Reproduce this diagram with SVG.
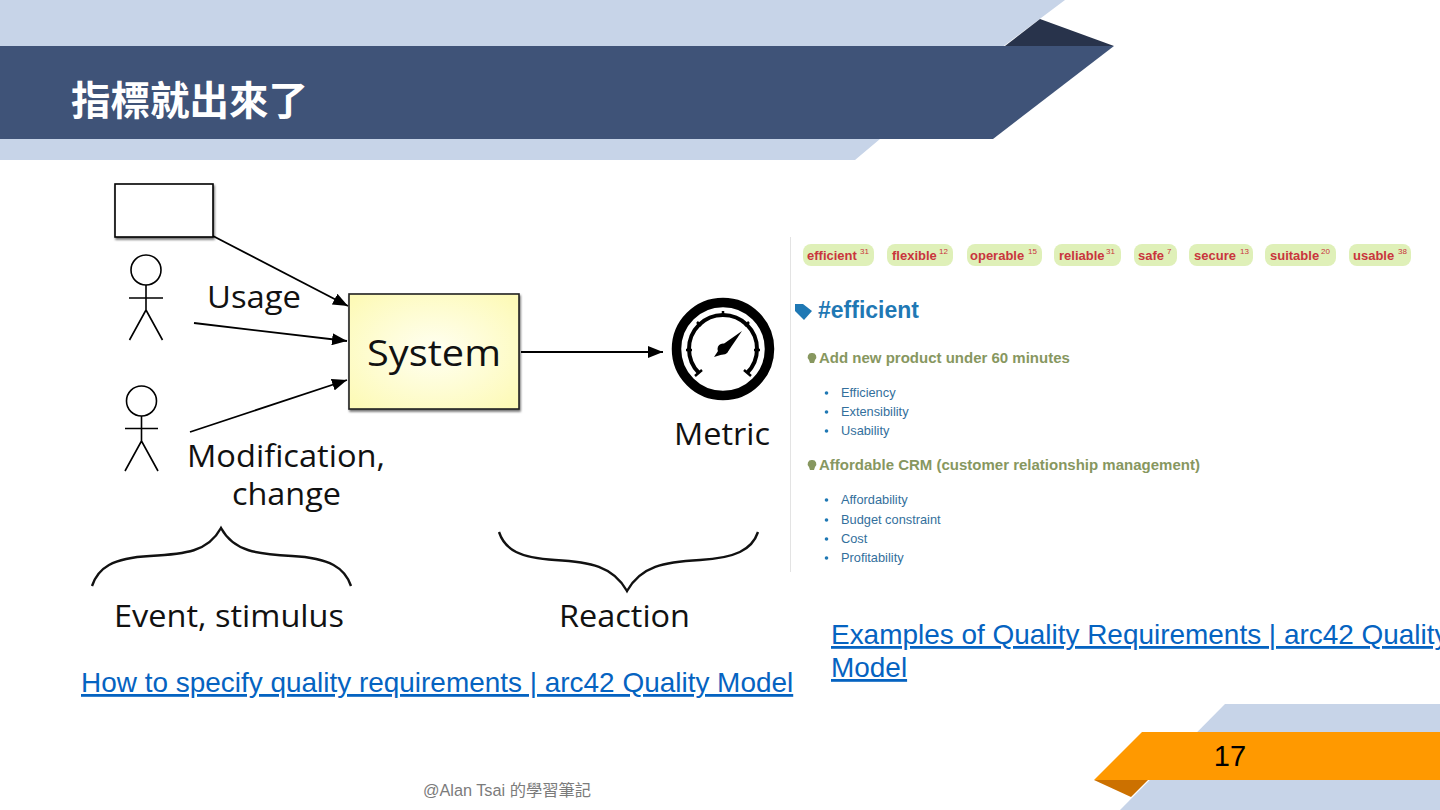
<svg xmlns="http://www.w3.org/2000/svg" width="1440" height="810" viewBox="0 0 1440 810">
<defs>
<marker id="arr" markerUnits="userSpaceOnUse" markerWidth="16" markerHeight="12" refX="15" refY="6" orient="auto"><path d="M0 0L15 6L0 12Z" fill="#000"/></marker>
<radialGradient id="sys" cx="50%" cy="50%" r="65%"><stop offset="0" stop-color="#fffff2"/><stop offset="1" stop-color="#fdfab8"/></radialGradient>
<filter id="sh" x="-10%" y="-10%" width="120%" height="120%"><feDropShadow dx="1" dy="2" stdDeviation="1.2" flood-color="#000" flood-opacity=".55"/></filter>
</defs>
<style>
text{font-family:"Liberation Sans",Arial,sans-serif}
.hand{font-family:"Open Sans","Noto Sans",sans-serif;font-size:31px;fill:#111}
.ln{fill:none;stroke:#000;stroke-width:1.6}
.con{stroke:#000;stroke-width:1.8;fill:none;marker-end:url(#arr)}
.pill{fill:#dff0b8}
.tag{font-size:13px;font-weight:bold;fill:#c9353d}
.sup{font-size:8px;fill:#c9353d}
.hd{font-size:15px;font-weight:bold;fill:#87975f}
.li{font-size:12.8px;fill:#336f9c}
.bu{fill:#1f78b4}
.lnk{font-size:27.950px;fill:#0563c1;text-decoration:underline}
</style>
<rect width="1440" height="810" fill="#fff"/>
<g id="header">
<path d="M0 0H1065L880 139L855 160H0Z" fill="#c7d4e8"/>
<path d="M1005 46L1040 19L1114 46Z" fill="#28334b"/>
<path d="M0 46H1114L993 139H0Z" fill="#3f5378"/>
<text x="71" y="115" font-size="39.500" font-weight="bold" fill="#fff" style="font-family:'Liberation Sans','Noto Sans CJK TC',sans-serif">指標就出來了</text>
</g>
<g id="footer">
<path d="M1225 704H1440V810H1120L1225 704Z" fill="#c7d4e8"/>
<path d="M1094 780L1148 780L1131 797Z" fill="#cc7100"/>
<path d="M1142 732H1440V780H1094Z" fill="#ff9900"/>
<text x="1230" y="766" font-size="29" text-anchor="middle" fill="#000">17</text>
<text x="507" y="796" font-size="16.300" text-anchor="middle" fill="#7b7b7b" style="font-family:'Liberation Sans','Noto Sans CJK TC',sans-serif">@Alan Tsai 的學習筆記</text>
</g>
<g id="connectors">
<path class="con" d="M213 236L348 306"/>
<path class="con" d="M194 323L347 341"/>
<path class="con" d="M190 432L347 380"/>
<path class="con" d="M521 352L663 352"/>
</g>
<g id="node-box"><rect x="115" y="184" width="98" height="53" fill="#fff" stroke="#000" stroke-width="1.600" filter="url(#sh)"/></g>
<g id="node-user1" class="ln"><circle cx="146" cy="270" r="15"/><path d="M146 285V310M129 298H163M146 310L129.500 340M146 310L162.500 340"/></g>
<g id="node-user2" class="ln"><circle cx="141.500" cy="401" r="15"/><path d="M141.500 416V441M125 428.500H158M141.500 441L125 471M141.500 441L158 471"/></g>
<g id="node-system">
<rect x="349" y="294" width="170" height="115" fill="url(#sys)" stroke="#222" stroke-width="1.600" filter="url(#sh)"/>
<text x="367" y="366" class="hand" style="font-size:37px" textLength="134" lengthAdjust="spacingAndGlyphs">System</text>
</g>
<g id="node-metric">
<circle cx="723" cy="349" r="46.500" fill="none" stroke="#000" stroke-width="9.500"/>
<path d="M699 373 A34 34 0 1 1 747 373" fill="none" stroke="#000" stroke-width="4"/>
<path d="M695 376L702 370M751 376L744 370M723 311V315M697 322L701 326M749 322L745 326M686 350H692M754 350H760" stroke="#000" stroke-width="2.500" fill="none"/>
<path d="M714 357L722 345L742 331L727 353Z" fill="#000"/>
<circle cx="723" cy="349" r="5.500" fill="#000"/>
<text x="674" y="445" class="hand" textLength="96" lengthAdjust="spacingAndGlyphs">Metric</text>
</g>
<g id="labels">
<text x="207" y="308" class="hand" textLength="94" lengthAdjust="spacingAndGlyphs">Usage</text>
<text x="187" y="467" class="hand" textLength="198" lengthAdjust="spacingAndGlyphs">Modification,</text>
<text x="232" y="505" class="hand" textLength="109" lengthAdjust="spacingAndGlyphs">change</text>
<text x="114" y="627" class="hand" textLength="230" lengthAdjust="spacingAndGlyphs">Event, stimulus</text>
<text x="559" y="627" class="hand" textLength="131" lengthAdjust="spacingAndGlyphs">Reaction</text>
<path d="M92 586C98 568 112 558 150 556C185 554 208 552 221 528C234 552 258 554 292 556C330 558 345 568 351 586" fill="none" stroke="#111" stroke-width="2.400"/>
<path d="M499 532C505 550 520 558 555 560C590 562 613 566 627 591C641 566 664 562 700 560C735 558 752 550 758 532" fill="none" stroke="#111" stroke-width="2.400"/>
</g>
<g id="quality-list">
<path d="M790.500 237V572" stroke="#e3e3e3" stroke-width="1"/>
<rect class="pill" x="803" y="244" width="71" height="22" rx="8"/><text class="tag" x="807" y="260">efficient</text><text class="sup" x="860" y="254">31</text>
<rect class="pill" x="887" y="244" width="66" height="22" rx="8"/><text class="tag" x="892" y="260">flexible</text><text class="sup" x="939" y="254">12</text>
<rect class="pill" x="967" y="244" width="75" height="22" rx="8"/><text class="tag" x="970" y="260">operable</text><text class="sup" x="1028" y="254">15</text>
<rect class="pill" x="1054" y="244" width="67" height="22" rx="8"/><text class="tag" x="1059" y="260">reliable</text><text class="sup" x="1106" y="254">31</text>
<rect class="pill" x="1134" y="244" width="43" height="22" rx="8"/><text class="tag" x="1138" y="260">safe</text><text class="sup" x="1167" y="254">7</text>
<rect class="pill" x="1189" y="244" width="64" height="22" rx="8"/><text class="tag" x="1194" y="260">secure</text><text class="sup" x="1240" y="254">13</text>
<rect class="pill" x="1265" y="244" width="71" height="22" rx="8"/><text class="tag" x="1270" y="260">suitable</text><text class="sup" x="1321" y="254">20</text>
<rect class="pill" x="1349" y="244" width="62" height="22" rx="8"/><text class="tag" x="1353" y="260">usable</text><text class="sup" x="1398" y="254">38</text>
<path d="M795 304H803L812 311L804 320L795 311Z" fill="#1f78b4"/>
<text x="818" y="318" font-size="23" font-weight="bold" fill="#1f78b4">#efficient</text>
<path d="M812 353a4 4 0 0 1 3 7l-1 3h-4l-1-3a4 4 0 0 1 3-7Z" fill="#87975f"/>
<text class="hd" x="819" y="363">Add new product under 60 minutes</text>
<circle class="bu" cx="826.500" cy="393" r="1.800"/><text class="li" x="841" y="397">Efficiency</text>
<circle class="bu" cx="826.500" cy="412" r="1.800"/><text class="li" x="841" y="416">Extensibility</text>
<circle class="bu" cx="826.500" cy="431" r="1.800"/><text class="li" x="841" y="435">Usability</text>
<path d="M812 460a4 4 0 0 1 3 7l-1 3h-4l-1-3a4 4 0 0 1 3-7Z" fill="#87975f"/>
<text class="hd" x="819" y="470">Affordable CRM (customer relationship management)</text>
<circle class="bu" cx="826.500" cy="500" r="1.800"/><text class="li" x="841" y="504">Affordability</text>
<circle class="bu" cx="826.500" cy="520" r="1.800"/><text class="li" x="841" y="524">Budget constraint</text>
<circle class="bu" cx="826.500" cy="539" r="1.800"/><text class="li" x="841" y="543">Cost</text>
<circle class="bu" cx="826.500" cy="558" r="1.800"/><text class="li" x="841" y="562">Profitability</text>
</g>
<g id="links">
<text class="lnk" x="81" y="692">How to specify quality requirements | arc42 Quality Model</text>
<text class="lnk" x="831" y="644">Examples of Quality Requirements | arc42 Quality</text>
<text class="lnk" x="831" y="677">Model</text>
</g>
</svg>
